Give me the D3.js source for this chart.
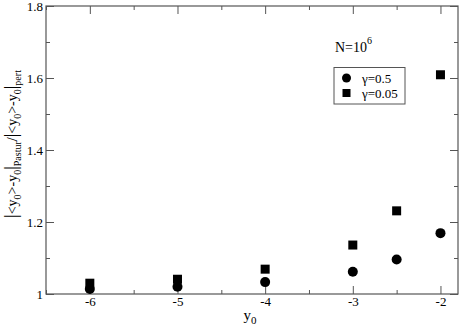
<!DOCTYPE html>
<html>
<head>
<meta charset="utf-8">
<script src="https://cdn.jsdelivr.net/npm/d3@7"></script>
<style>
  body { margin: 0; padding: 0; background: #fff; }
</style>
</head>
<body>
<div id="chart"></div>
<script>
const xs = [-6, -5, -4, -3, -2.5, -2];
const gammaHalf = [1.014, 1.02, 1.033, 1.062, 1.096, 1.169];
const gammaSmall = [1.03, 1.041, 1.069, 1.136, 1.231, 1.609];
const xTicks = [-6, -5, -4, -3, -2];
const yTicks = [1, 1.2, 1.4, 1.6, 1.8];

const width = 460, height = 327;
const m = { left: 46, right: 2, top: 6, bottom: 33 };
const serif = '"Liberation Serif", "DejaVu Serif", serif';

const svg = d3.select('#chart').append('svg').attr('width', width).attr('height', height)
  .attr('font-family', serif);

const x = d3.scaleLinear().domain([-6.5, -1.8]).range([m.left, width - m.right]);
const y = d3.scaleLinear().domain([1, 1.8]).range([height - m.bottom, m.top]);

const axisColor = '#555';
function styleAxis(g) {
  g.attr('font-family', serif).attr('font-size', 13);
  g.select('.domain').remove();
  g.selectAll('line').attr('stroke', axisColor);
}

const xMinor = d3.range(-6.5, -1.8, 0.5).filter(v => !xTicks.includes(v));
const yMinor = [1.1, 1.3, 1.5, 1.7];
const ih = height - m.top - m.bottom, iw = width - m.left - m.right;

// bottom
svg.append('g').attr('transform', `translate(0,${height - m.bottom})`)
  .call(d3.axisBottom(x).tickValues(xTicks).tickSize(-8).tickPadding(3).tickFormat(d => String(d)))
  .call(styleAxis);
svg.append('g').attr('transform', `translate(0,${height - m.bottom})`)
  .call(d3.axisBottom(x).tickValues(xMinor).tickSize(-4).tickFormat(''))
  .call(styleAxis);
// top
svg.append('g').attr('transform', `translate(0,${m.top})`)
  .call(d3.axisTop(x).tickValues(xTicks).tickSize(-8).tickFormat(''))
  .call(styleAxis);
svg.append('g').attr('transform', `translate(0,${m.top})`)
  .call(d3.axisTop(x).tickValues(xMinor).tickSize(-4).tickFormat(''))
  .call(styleAxis);
// left
svg.append('g').attr('transform', `translate(${m.left},0)`)
  .call(d3.axisLeft(y).tickValues(yTicks).tickSize(-8).tickPadding(3).tickFormat(d => d === 1 ? '1' : d3.format('.1f')(d)))
  .call(styleAxis);
svg.append('g').attr('transform', `translate(${m.left},0)`)
  .call(d3.axisLeft(y).tickValues(yMinor).tickSize(-4).tickFormat(''))
  .call(styleAxis);
// right
svg.append('g').attr('transform', `translate(${width - m.right},0)`)
  .call(d3.axisRight(y).tickValues(yTicks).tickSize(-8).tickFormat(''))
  .call(styleAxis);
svg.append('g').attr('transform', `translate(${width - m.right},0)`)
  .call(d3.axisRight(y).tickValues(yMinor).tickSize(-4).tickFormat(''))
  .call(styleAxis);

svg.append('rect').attr('x', m.left).attr('y', m.top).attr('width', iw).attr('height', ih)
  .attr('fill', 'none').attr('stroke', axisColor).attr('stroke-width', 1.2);

// data
svg.append('g').selectAll('circle').data(xs).join('circle')
  .attr('cx', d => x(d)).attr('cy', (d, i) => y(gammaHalf[i])).attr('r', 5).attr('fill', '#000');
const s = 9;
svg.append('g').selectAll('rect').data(xs).join('rect')
  .attr('x', d => x(d) - s / 2).attr('y', (d, i) => y(gammaSmall[i]) - s / 2)
  .attr('width', s).attr('height', s).attr('fill', '#000');

// N=10^6
const nt = svg.append('text').attr('x', 335).attr('y', 52).attr('font-size', 14);
nt.append('tspan').text('N=10');
nt.append('tspan').attr('dy', -8).attr('font-size', 10).text('6');

// legend
svg.append('rect').attr('x', 334).attr('y', 67.5).attr('width', 71).attr('height', 36.5)
  .attr('fill', 'none').attr('stroke', axisColor);
svg.append('circle').attr('cx', 346.5).attr('cy', 78).attr('r', 4.5).attr('fill', '#000');
svg.append('rect').attr('x', 342.5).attr('y', 89).attr('width', 8).attr('height', 8).attr('fill', '#000');
svg.append('text').attr('x', 362).attr('y', 82.5).attr('font-size', 13).text('γ=0.5');
svg.append('text').attr('x', 362).attr('y', 97.5).attr('font-size', 13).text('γ=0.05');

// x label
const xl = svg.append('text').attr('x', 250).attr('y', 320).attr('text-anchor', 'middle').attr('font-size', 15);
xl.append('tspan').text('y');
xl.append('tspan').attr('dy', 4).attr('font-size', 11).text('0');

// y label: |<y0>-y0|Pastur / |<y0>-y0|pert
const yl = svg.append('text').attr('transform', 'translate(17,144) rotate(-90)')
  .attr('text-anchor', 'middle').attr('font-size', 14);
const sub = (t, dy) => yl.append('tspan').attr('dy', dy).attr('font-size', 10).text(t);
const norm = (t, dy) => yl.append('tspan').attr('dy', dy).text(t);
const bar = (dy) => yl.append('tspan').attr('dy', dy).attr('font-size', 18).text('|');
bar(0);
norm('<y', 0);
sub('0', 4);
norm('>-y', -4);
sub('0', 4);
bar(-4);
sub('Pastur', 4);
norm('/', -4);
bar(0);
norm('<y', 0);
sub('0', 4);
norm('>-y', -4);
sub('0', 4);
bar(-4);
sub('pert', 4);
</script>
</body>
</html>
